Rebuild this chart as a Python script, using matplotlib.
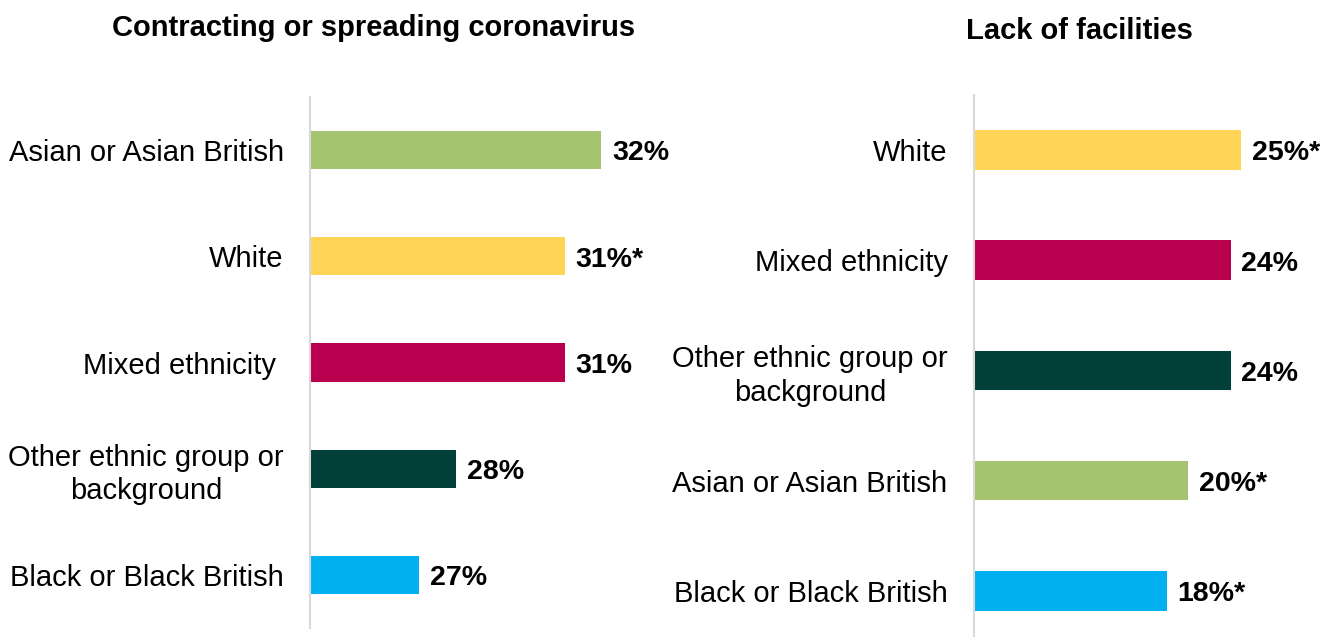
import matplotlib.pyplot as plt

plt.rcParams['font.family'] = ['Liberation Sans', 'DejaVu Sans']

# Contracting or spreading coronavirus
left_groups = ['Asian or Asian British', 'White', 'Mixed ethnicity ',
               'Other ethnic group or\nbackground', 'Black or Black British']
left_values = [32, 31, 31, 28, 27]
left_notes = ['', '*', '', '', '']

# Lack of facilities
right_groups = ['White', 'Mixed ethnicity', 'Other ethnic group or\nbackground',
                'Asian or Asian British', 'Black or Black British']
right_values = [25, 24, 24, 20, 18]
right_notes = ['*', '', '', '*', '*']

group_colors = {
    'Asian or Asian British': '#A6C46F',
    'White': '#FFD457',
    'Mixed ethnicity': '#B8004E',
    'Other ethnic group or\nbackground': '#004038',
    'Black or Black British': '#00B0F0',
}

fig = plt.figure(figsize=(13.37, 6.37), dpi=100)


def draw_panel(ax, groups, values, notes, xlim, ylim, offset):
    ys = range(len(groups))
    colors = [group_colors[g.strip()] for g in groups]
    ax.barh(ys, [v - xlim[0] for v in values], left=xlim[0], height=0.36,
            color=colors)
    for y, v, n in zip(ys, values, notes):
        ax.text(v + offset, y + 0.03, f'{v}%{n}', ha='left', va='center',
                fontsize=20.5, fontweight='bold')
    ax.set_xlim(*xlim)
    ax.set_ylim(*ylim)
    ax.set_yticks(list(ys))
    ax.set_yticklabels(groups, fontsize=21)
    for t in ax.get_yticklabels():
        t.set_multialignment('center')
        t.set_linespacing(1.25)
    ax.tick_params(axis='y', length=0, pad=19)
    ax.set_xticks([])
    for side in ['top', 'right', 'bottom']:
        ax.spines[side].set_visible(False)
    ax.spines['left'].set_color('#D9D9D9')
    ax.spines['left'].set_linewidth(1.5)


ax1 = fig.add_axes([0.2319, 0.0141, 0.2722, 0.8336])
draw_panel(ax1, left_groups, left_values, left_notes, (24, 34), (4.5, -0.5), 0.3)

ax2 = fig.add_axes([0.7285, 0.0, 0.264, 0.8509])
draw_panel(ax2, right_groups, right_values, right_notes, (0, 33), (4.42, -0.5), 1.0)

fig.text(374 / 1337, 1 - 28 / 637, 'Contracting or spreading coronavirus',
         ha='center', va='center', fontsize=21, fontweight='bold')
fig.text(1079 / 1337, 1 - 31 / 637, 'Lack of facilities',
         ha='center', va='center', fontsize=21, fontweight='bold')

fig.savefig('out.png', dpi=100)
